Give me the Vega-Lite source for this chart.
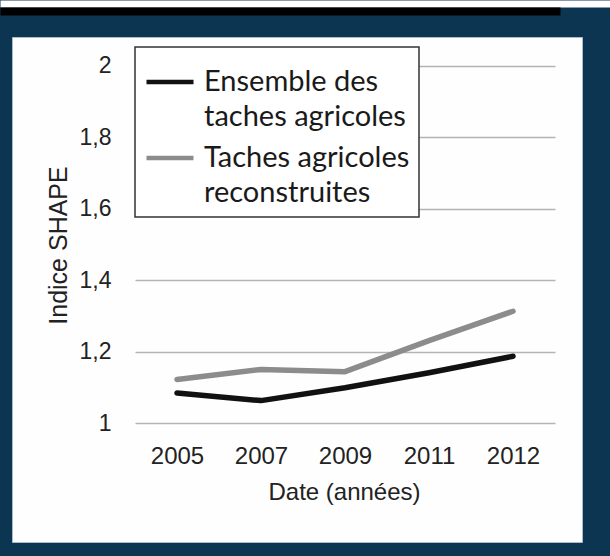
{
  "$schema": "https://vega.github.io/schema/vega-lite/v6.json",
  "width": 570,
  "height": 505,
  "autosize": {"type": "none"},
  "padding": {"left": 12, "top": 37, "right": 28, "bottom": 14},
  "background": "#0c3552",
  "data": {
    "values": [
      {"annee": "2005", "serie": "Ensemble des taches agricoles", "shape": 1.085},
      {"annee": "2007", "serie": "Ensemble des taches agricoles", "shape": 1.064},
      {"annee": "2009", "serie": "Ensemble des taches agricoles", "shape": 1.100},
      {"annee": "2011", "serie": "Ensemble des taches agricoles", "shape": 1.142},
      {"annee": "2012", "serie": "Ensemble des taches agricoles", "shape": 1.188},
      {"annee": "2005", "serie": "Taches agricoles reconstruites", "shape": 1.123},
      {"annee": "2007", "serie": "Taches agricoles reconstruites", "shape": 1.151},
      {"annee": "2009", "serie": "Taches agricoles reconstruites", "shape": 1.145},
      {"annee": "2011", "serie": "Taches agricoles reconstruites", "shape": 1.232},
      {"annee": "2012", "serie": "Taches agricoles reconstruites", "shape": 1.314}
    ]
  },
  "layer": [
    {
      "mark": {"type": "line", "opacity": 0},
      "encoding": {
        "x": {
          "field": "annee", "type": "ordinal",
          "scale": {"type": "point", "range": [-12, 598]},
          "axis": {"orient": "top", "offset": 33.5, "labels": false, "ticks": false, "title": null, "domain": true, "domainColor": "#ffffff", "domainWidth": 7, "grid": false}
        },
        "y": {
          "field": "shape", "type": "quantitative",
          "scale": {"domain": [0.6685, 2.0811], "nice": false, "zero": false},
          "axis": null
        },
        "detail": {"field": "serie"}
      }
    },
    {
      "mark": {"type": "line", "opacity": 0},
      "encoding": {
        "x": {
          "field": "annee", "type": "ordinal",
          "scale": {"type": "point", "range": [-12, 548]},
          "axis": {"orient": "top", "offset": 26, "labels": false, "ticks": false, "title": null, "domain": true, "domainColor": "#000000", "domainWidth": 8, "grid": false}
        },
        "y": {
          "field": "shape", "type": "quantitative",
          "scale": {"domain": [0.6685, 2.0811], "nice": false, "zero": false},
          "axis": {"orient": "left", "offset": -123, "values": [1, 1.2, 1.4, 1.6, 1.8, 2], "labels": false, "domain": false, "grid": false, "ticks": true, "tickSize": -420, "tickColor": "#b4b4b4", "tickWidth": 1.6, "title": null}
        },
        "detail": {"field": "serie"}
      }
    },
    {
      "mark": {"type": "line", "strokeWidth": 5.5, "strokeCap": "round", "strokeJoin": "round"},
      "encoding": {
        "x": {
          "field": "annee", "type": "ordinal",
          "scale": {"type": "point", "padding": 0, "range": [165, 501]},
          "axis": {"orient": "bottom", "offset": -118.5, "domain": false, "ticks": false, "grid": false, "labelAngle": 0, "labelPadding": 21, "labelFont": "Liberation Sans", "labelFontSize": 24, "labelColor": "#222222", "title": "Date (années)", "titleFont": "Liberation Sans", "titleFontSize": 24, "titleFontWeight": "normal", "titleColor": "#222222", "titlePadding": 12, "titleX": 332}
        },
        "y": {
          "field": "shape", "type": "quantitative",
          "scale": {"domain": [0.6685, 2.0811], "nice": false, "zero": false},
          "axis": {"orient": "left", "offset": -123, "values": [1, 1.2, 1.4, 1.6, 1.8, 2], "labelExpr": "replace(format(datum.value, '.1~f'), '.', ',')", "domain": false, "ticks": false, "grid": false, "labelPadding": 24, "labelFont": "Liberation Sans", "labelFontSize": 23, "labelColor": "#222222", "title": "Indice SHAPE", "titleFont": "Liberation Sans", "titleFontSize": 25, "titleFontWeight": "normal", "titleColor": "#222222", "titleAngle": -90, "titleBaseline": "alphabetic", "titleX": -69, "titleY": 208}
        },
        "color": {
          "field": "serie", "type": "nominal",
          "scale": {"domain": ["Ensemble des taches agricoles", "Taches agricoles reconstruites"], "range": ["#111111", "#8c8c8c"]},
          "legend": {
            "title": null,
            "orient": "none",
            "legendX": 123,
            "legendY": 10,
            "symbolType": "stroke",
            "symbolSize": 2209,
            "symbolStrokeWidth": 4.5,
            "labelFont": "Lato",
            "labelFontSize": 29,
            "labelColor": "#1a1a1a",
            "labelLimit": 400,
            "labelOffset": 8,
            "labelBaseline": "middle",
            "labelExpr": "datum.label == 'Ensemble des taches agricoles' ? ['Ensemble des', 'taches agricoles'] : ['Taches agricoles', 'reconstruites']",
            "padding": 9,
            "rowPadding": 0,
            "fillColor": "#ffffff",
            "strokeColor": "#333333",
            "encode": {
              "labels": {"update": {"lineHeight": {"value": 35}}},
              "legend": {"update": {"strokeWidth": {"value": 1.5}}}
            }
          }
        }
      }
    }
  ],
  "resolve": {"scale": {"x": "independent"}, "axis": {"x": "independent", "y": "independent"}},
  "config": {
    "view": {"fill": "#fefefe", "stroke": "#a9bccb", "strokeWidth": 1}
  }
}
